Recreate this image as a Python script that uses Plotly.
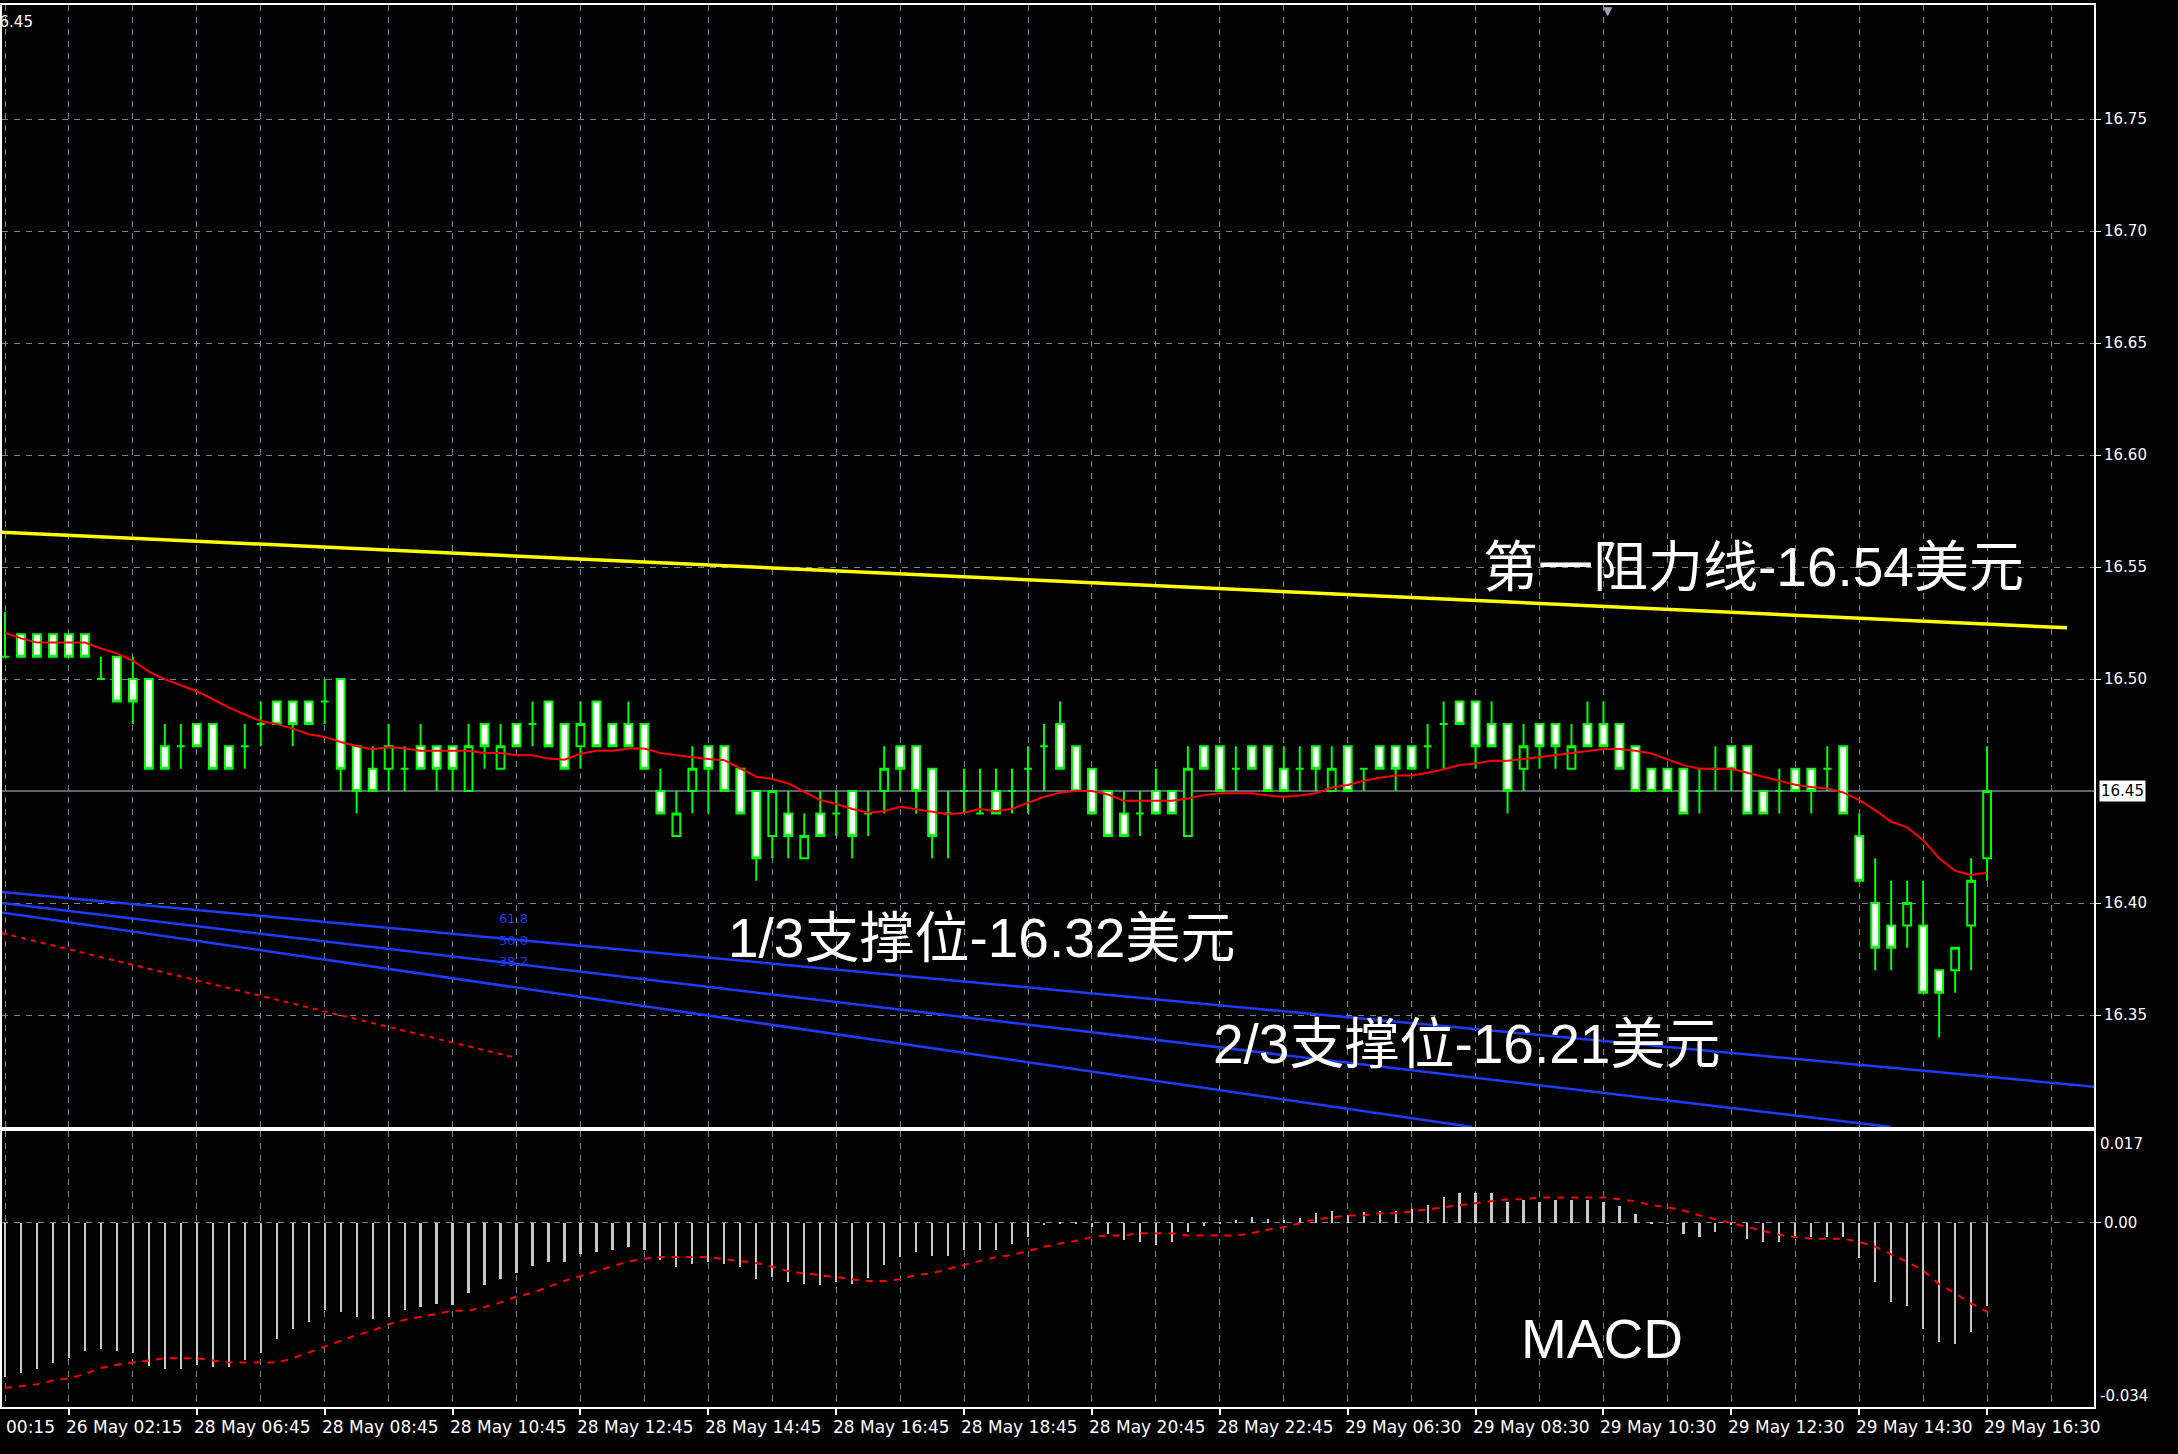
import plotly.graph_objects as go

# ---------------- data ----------------
opens = [16.51,16.52,16.52,16.52,16.52,16.52,16.50,16.51,16.50,16.50,
         16.47,16.47,16.48,16.48,16.47,16.47,16.48,16.49,16.49,16.49,
         16.49,16.50,16.47,16.46,16.46,16.46,16.47,16.47,16.47,16.45,
         16.48,16.46,16.48,16.48,16.49,16.48,16.47,16.49,16.48,16.48,
         16.48,16.45,16.43,16.45,16.47,16.47,16.46,16.45,16.43,16.44,
         16.42,16.44,16.44,16.45,16.44,16.45,16.47,16.47,16.46,16.44,
         16.45,16.44,16.45,16.45,16.46,16.47,16.48,16.47,16.46,16.45,
         16.44,16.44,16.45,16.45,16.43,16.47,16.47,16.46,16.47,16.47,
         16.46,16.46,16.47,16.45,16.47,16.46,16.47,16.47,16.47,16.47,
         16.48,16.49,16.49,16.48,16.48,16.46,16.48,16.48,16.46,16.48,
         16.48,16.48,16.47,16.46,16.46,16.46,16.45,16.46,16.47,16.47,
         16.45,16.45,16.46,16.46,16.46,16.47,16.43,16.40,16.39,16.39,
         16.39,16.37,16.37,16.39,16.42]
highs = [16.53,16.52,16.52,16.52,16.52,16.52,16.51,16.51,16.51,16.50,
         16.48,16.48,16.48,16.48,16.47,16.48,16.49,16.49,16.49,16.49,
         16.50,16.50,16.47,16.47,16.48,16.47,16.48,16.47,16.47,16.48,
         16.48,16.48,16.48,16.49,16.49,16.48,16.49,16.49,16.48,16.49,
         16.48,16.46,16.45,16.47,16.47,16.47,16.46,16.45,16.45,16.45,
         16.44,16.45,16.45,16.45,16.45,16.47,16.47,16.47,16.46,16.45,
         16.46,16.46,16.46,16.46,16.47,16.48,16.49,16.47,16.46,16.45,
         16.45,16.45,16.46,16.45,16.47,16.47,16.47,16.47,16.47,16.47,
         16.47,16.47,16.47,16.47,16.47,16.46,16.47,16.47,16.47,16.48,
         16.49,16.49,16.49,16.49,16.48,16.48,16.48,16.48,16.48,16.49,
         16.49,16.48,16.47,16.46,16.46,16.46,16.46,16.47,16.47,16.47,
         16.45,16.46,16.46,16.46,16.47,16.47,16.44,16.42,16.41,16.41,
         16.41,16.37,16.38,16.42,16.47]
lows  = [16.51,16.51,16.51,16.51,16.51,16.51,16.50,16.49,16.48,16.46,
         16.46,16.46,16.47,16.46,16.46,16.46,16.47,16.48,16.47,16.48,
         16.48,16.45,16.44,16.45,16.45,16.45,16.46,16.45,16.45,16.45,
         16.46,16.46,16.47,16.47,16.47,16.46,16.46,16.47,16.47,16.47,
         16.46,16.44,16.43,16.44,16.44,16.45,16.44,16.41,16.42,16.42,
         16.42,16.43,16.43,16.42,16.43,16.44,16.45,16.44,16.42,16.42,
         16.44,16.44,16.44,16.44,16.44,16.45,16.46,16.45,16.44,16.43,
         16.43,16.43,16.44,16.44,16.43,16.46,16.45,16.45,16.46,16.45,
         16.45,16.45,16.45,16.45,16.45,16.45,16.46,16.45,16.46,16.46,
         16.46,16.48,16.46,16.47,16.44,16.45,16.46,16.46,16.46,16.47,
         16.47,16.46,16.45,16.45,16.45,16.44,16.44,16.45,16.45,16.44,
         16.44,16.44,16.45,16.44,16.45,16.44,16.41,16.37,16.37,16.38,
         16.36,16.34,16.36,16.37,16.41]
closes = [16.51,16.51,16.51,16.51,16.51,16.51,16.50,16.49,16.49,16.46,
          16.46,16.47,16.47,16.46,16.46,16.47,16.48,16.48,16.48,16.48,
          16.49,16.46,16.45,16.45,16.47,16.46,16.46,16.46,16.46,16.47,
          16.47,16.47,16.47,16.48,16.47,16.46,16.48,16.47,16.47,16.47,
          16.46,16.44,16.44,16.46,16.46,16.45,16.44,16.42,16.45,16.43,
          16.43,16.43,16.44,16.43,16.44,16.46,16.46,16.45,16.43,16.44,
          16.45,16.44,16.44,16.45,16.46,16.47,16.46,16.45,16.44,16.43,
          16.43,16.44,16.44,16.44,16.46,16.46,16.45,16.46,16.46,16.45,
          16.45,16.46,16.46,16.46,16.45,16.46,16.46,16.46,16.46,16.47,
          16.48,16.48,16.47,16.47,16.45,16.47,16.47,16.47,16.47,16.47,
          16.47,16.46,16.45,16.45,16.45,16.44,16.45,16.46,16.46,16.44,
          16.44,16.45,16.45,16.45,16.46,16.44,16.41,16.38,16.38,16.40,
          16.36,16.36,16.38,16.41,16.45]
ma_line = [16.5207,16.5182,16.5163,16.5163,16.5163,16.5163,16.5137,16.5115,16.5082,16.5033,
           16.4999,16.4972,16.4946,16.4910,16.4873,16.4842,16.4813,16.4799,16.4779,16.4754,
           16.4742,16.4719,16.4700,16.4687,16.4697,16.4690,16.4680,16.4680,16.4680,16.4680,
           16.4670,16.4670,16.4660,16.4660,16.4645,16.4640,16.4667,16.4680,16.4680,16.4690,
           16.4690,16.4670,16.4660,16.4650,16.4643,16.4638,16.4600,16.4564,16.4554,16.4534,
           16.4497,16.4460,16.4442,16.4420,16.4403,16.4410,16.4430,16.4420,16.4408,16.4397,
           16.4403,16.4420,16.4410,16.4421,16.4448,16.4475,16.4493,16.4500,16.4500,16.4485,
           16.4457,16.4457,16.4457,16.4457,16.4467,16.4482,16.4490,16.4490,16.4490,16.4480,
           16.4475,16.4480,16.4490,16.4516,16.4527,16.4546,16.4560,16.4570,16.4570,16.4582,
           16.4597,16.4616,16.4623,16.4635,16.4635,16.4643,16.4652,16.4662,16.4668,16.4680,
           16.4688,16.4688,16.4680,16.4668,16.4641,16.4616,16.4600,16.4600,16.4600,16.4582,
           16.4564,16.4549,16.4528,16.4518,16.4512,16.4494,16.4460,16.4415,16.4363,16.4338,
           16.4281,16.4200,16.4144,16.4125,16.4135]
macd_hist = [-0.0285,-0.0277,-0.0270,-0.0259,-0.0249,-0.0237,-0.0233,-0.0237,-0.0241,-0.0265,
             -0.0270,-0.0270,-0.0262,-0.0266,-0.0266,-0.0253,-0.0241,-0.0215,-0.0196,-0.0182,
             -0.0161,-0.0164,-0.0174,-0.0178,-0.0173,-0.0160,-0.0156,-0.0149,-0.0152,-0.0130,
             -0.0115,-0.0104,-0.0093,-0.0079,-0.0072,-0.0072,-0.0058,-0.0053,-0.0049,-0.0045,
             -0.0050,-0.0068,-0.0082,-0.0076,-0.0072,-0.0075,-0.0082,-0.0104,-0.0099,-0.0109,
             -0.0112,-0.0115,-0.0109,-0.0112,-0.0101,-0.0078,-0.0063,-0.0053,-0.0061,-0.0061,
             -0.0049,-0.0049,-0.0049,-0.0038,-0.0025,-0.0003,0.0001,0.0002,-0.0007,-0.0021,
             -0.0031,-0.0035,-0.0041,-0.0035,-0.0017,-0.0006,0.0001,0.0005,0.0011,0.0008,
             0.0006,0.0010,0.0019,0.0023,0.0014,0.0020,0.0023,0.0023,0.0026,0.0034,
             0.0049,0.0056,0.0056,0.0056,0.0038,0.0042,0.0038,0.0042,0.0042,0.0042,
             0.0038,0.0031,0.0016,0.0002,-0.0001,-0.0021,-0.0025,-0.0017,-0.0003,-0.0029,
             -0.0035,-0.0035,-0.0026,-0.0026,-0.0025,-0.0026,-0.0064,-0.0109,-0.0145,-0.0153,
             -0.0196,-0.0219,-0.0223,-0.0201,-0.0153]
macd_signal = [-0.0305,-0.0302,-0.0298,-0.0291,-0.0287,-0.0279,-0.0268,-0.0262,-0.0258,-0.0254,
               -0.0250,-0.0250,-0.0250,-0.0254,-0.0258,-0.0258,-0.0258,-0.0258,-0.0250,-0.0239,
               -0.0228,-0.0217,-0.0207,-0.0199,-0.0187,-0.0179,-0.0174,-0.0168,-0.0162,-0.0162,
               -0.0155,-0.0147,-0.0136,-0.0129,-0.0118,-0.0107,-0.0098,-0.0089,-0.0080,-0.0071,
               -0.0066,-0.0063,-0.0063,-0.0063,-0.0063,-0.0067,-0.0071,-0.0074,-0.0081,-0.0089,
               -0.0093,-0.0096,-0.0100,-0.0104,-0.0107,-0.0107,-0.0104,-0.0096,-0.0093,-0.0085,
               -0.0077,-0.0070,-0.0063,-0.0059,-0.0052,-0.0044,-0.0038,-0.0033,-0.0026,-0.0023,
               -0.0023,-0.0019,-0.0019,-0.0019,-0.0023,-0.0023,-0.0023,-0.0023,-0.0019,-0.0012,
               -0.0008,0.0000,0.0007,0.0010,0.0014,0.0014,0.0018,0.0018,0.0021,0.0025,
               0.0029,0.0033,0.0036,0.0040,0.0044,0.0044,0.0047,0.0047,0.0047,0.0047,
               0.0047,0.0044,0.0040,0.0033,0.0029,0.0023,0.0014,0.0007,0.0000,-0.0007,
               -0.0015,-0.0022,-0.0026,-0.0029,-0.0029,-0.0029,-0.0035,-0.0044,-0.0058,-0.0072,
               -0.0088,-0.0113,-0.0130,-0.0149,-0.0164]
bar_index = list(range(len(closes)))

# trend / fibonacci fan objects (bar index, price)
resist_x = [-0.2, 129.0]
resist_y = [16.5656, 16.5229]
fan_a_x = [-0.2, 130.7]
fan_a_y = [16.405, 16.318]
fan_b_x = [-0.2, 118.0]
fan_b_y = [16.400, 16.300]
fan_c_x = [-0.2, 91.8]
fan_c_y = [16.3958, 16.300]
fan_base_x = [-0.2, 31.9]
fan_base_y = [16.3866, 16.331]
fib_levels = ["61.8", "50.0", "38.2"]
fib_label_x = 31.8
fib_label_y = [16.3933, 16.3835, 16.3737]

current_price = 16.45
price_ticks = [16.35, 16.40, 16.50, 16.55, 16.60, 16.65, 16.70, 16.75]
time_tick_pos = [-4, 4, 12, 20, 28, 36, 44, 52, 60, 68, 76, 84, 92, 100, 108, 116, 124]
time_tick_text = ["00:15", "26 May 02:15", "28 May 06:45", "28 May 08:45", "28 May 10:45",
                  "28 May 12:45", "28 May 14:45", "28 May 16:45", "28 May 18:45",
                  "28 May 20:45", "28 May 22:45", "29 May 06:30", "29 May 08:30",
                  "29 May 10:30", "29 May 12:30", "29 May 14:30", "29 May 16:30"]

notes = [
    ("第一阻力线-16.54美元", 109.4, 16.550, "y"),
    ("1/3支撑位-16.32美元", 61.1, 16.3846, "y"),
    ("2/3支撑位-16.21美元", 91.4, 16.337, "y"),
    ("MACD", 99.9, -0.0214, "y2"),
]

# ---------------- figure ----------------
X_RANGE = [-0.1875, 130.6875]
GRID = "#778899"
GREEN = "#00ff00"
AXFONT = dict(family="DejaVu Sans, Verdana, sans-serif", size=15, color="white")
XLBLFONT = dict(family="DejaVu Sans, Verdana, sans-serif", size=17, color="white")
BIG = dict(family="Liberation Sans, Noto Sans CJK SC, sans-serif", size=55, color="white")

fig = go.Figure()

fig.add_trace(go.Candlestick(
    x=bar_index, open=opens, high=highs, low=lows, close=closes,
    xaxis="x", yaxis="y", whiskerwidth=0,
    increasing=dict(line=dict(color=GREEN, width=2), fillcolor="black"),
    decreasing=dict(line=dict(color=GREEN, width=2), fillcolor="white"),
    showlegend=False, hoverinfo="skip"))

fig.add_trace(go.Scatter(x=bar_index, y=ma_line, mode="lines", xaxis="x", yaxis="y",
                         line=dict(color="#ff0000", width=2), showlegend=False, hoverinfo="skip"))

fig.add_trace(go.Scatter(x=resist_x, y=resist_y, mode="lines", xaxis="x", yaxis="y",
                         line=dict(color="#ffff00", width=3.5), showlegend=False, hoverinfo="skip"))
for fx, fy in [(fan_a_x, fan_a_y), (fan_b_x, fan_b_y), (fan_c_x, fan_c_y)]:
    fig.add_trace(go.Scatter(x=fx, y=fy, mode="lines", xaxis="x", yaxis="y",
                             line=dict(color="#1e3cff", width=2.5), showlegend=False, hoverinfo="skip"))
fig.add_trace(go.Scatter(x=fan_base_x, y=fan_base_y, mode="lines", xaxis="x", yaxis="y",
                         line=dict(color="#ff0000", width=2, dash="5px,5px"),
                         showlegend=False, hoverinfo="skip"))

fig.add_trace(go.Bar(x=bar_index, y=macd_hist, xaxis="x2", yaxis="y2", width=0.14,
                     marker=dict(color="#c8c8c8", line=dict(width=0)),
                     showlegend=False, hoverinfo="skip"))
fig.add_trace(go.Scatter(x=bar_index, y=macd_signal, mode="lines", xaxis="x2", yaxis="y2",
                         line=dict(color="#ff0000", width=2, dash="7px,7px"),
                         showlegend=False, hoverinfo="skip"))

common_x = dict(range=X_RANGE, showgrid=True, gridcolor=GRID, griddash="6px,6px", gridwidth=1,
                zeroline=False, showline=True, mirror=True, linecolor="white", linewidth=2,
                tickmode="array", tickvals=time_tick_pos,
                minor=dict(dtick=4, tick0=0, showgrid=True, gridcolor=GRID, griddash="6px,6px",
                           gridwidth=1, ticks=""),
                fixedrange=True)

fig.update_layout(
    width=2178, height=1454,
    paper_bgcolor="black", plot_bgcolor="black",
    margin=dict(l=0, r=84, t=5, b=47),
    showlegend=False,
    bargap=0,
    xaxis=dict(domain=[0, 1], anchor="y", showticklabels=False, ticks="",
               rangeslider=dict(visible=False), **common_x),
    yaxis=dict(domain=[0.1997, 1], anchor="x", side="right", range=[16.30, 16.801],
               tickmode="array", tickvals=price_ticks,
               ticktext=[f"{v:.2f}" for v in price_ticks],
               showgrid=True, gridcolor=GRID, griddash="6px,6px", zeroline=False,
               showline=True, mirror=True, linecolor="white", linewidth=2,
               ticks="outside", ticklen=5, tickcolor="white", tickfont=AXFONT, fixedrange=True),
    xaxis2=dict(domain=[0, 1], anchor="y2", showticklabels=False, ticks="outside",
                ticklen=6, tickcolor="white", tickwidth=1.5, **common_x),
    yaxis2=dict(domain=[0, 0.1969], anchor="x2", side="right", range=[-0.034, 0.017],
                tickmode="array", tickvals=[0], ticktext=["0.00"],
                showgrid=True, gridcolor=GRID, griddash="6px,6px", zeroline=False,
                showline=True, mirror=True, linecolor="white", linewidth=2,
                ticks="outside", ticklen=5, tickcolor="white", tickfont=AXFONT, fixedrange=True),
)

# current price line
fig.add_shape(type="line", xref="x domain", x0=0, x1=1, yref="y", y0=current_price, y1=current_price,
              line=dict(color=GRID, width=1.5), layer="below")

annotations = []
# current price box
annotations.append(dict(xref="paper", x=1, xanchor="left", xshift=5, yref="y", y=current_price,
                        text=f"{current_price:.2f}", showarrow=False, bgcolor="white",
                        font=dict(family=AXFONT["family"], size=15, color="black"),
                        borderpad=1))
# MACD scale extremes
annotations.append(dict(xref="paper", x=1, xanchor="left", xshift=4, yref="y2", y=0.017,
                        yanchor="top", yshift=-2, text="0.017", showarrow=False, font=AXFONT))
annotations.append(dict(xref="paper", x=1, xanchor="left", xshift=4, yref="y2", y=-0.034,
                        yanchor="bottom", yshift=0, text="-0.034", showarrow=False, font=AXFONT))
# time labels
for pos, txt in zip(time_tick_pos, time_tick_text):
    if pos < X_RANGE[0]:
        annotations.append(dict(xref="paper", x=0, xanchor="left", xshift=2, yref="paper", y=0,
                                yanchor="top", yshift=-8, text=txt, showarrow=False, font=XLBLFONT))
    else:
        annotations.append(dict(xref="x2", x=pos, xanchor="left", xshift=-5, yref="paper", y=0,
                                yanchor="top", yshift=-8, text=txt, showarrow=False, font=XLBLFONT))
# fib labels
for lvl, fy in zip(fib_levels, fib_label_y):
    annotations.append(dict(xref="x", x=fib_label_x, yref="y", y=fy, text=lvl, showarrow=False,
                            font=dict(family="DejaVu Sans", size=13, color="#1e3cff")))
# big notes
for txt, nx, ny, yr in notes:
    annotations.append(dict(xref="x" if yr == "y" else "x2", x=nx, yref=yr, y=ny, text=txt,
                            showarrow=False, font=BIG, xanchor="center", yanchor="middle"))
# symbol info (cut at left edge, as in the terminal screenshot)
annotations.append(dict(xref="paper", x=0, xanchor="right", xshift=33, yref="paper", y=1,
                        yanchor="top", yshift=-6, text="16.45", showarrow=False, font=AXFONT))
# chart shift marker
annotations.append(dict(xref="x", x=100.3, yref="paper", y=1, yanchor="top", yshift=3,
                        text="▼", showarrow=False,
                        font=dict(family="DejaVu Sans", size=12, color="#9aa4b0")))
fig.update_layout(annotations=annotations)

fig.write_html("out.html", config={"displayModeBar": False},
               post_script="document.body.style.margin='0';document.body.style.background='black';")
